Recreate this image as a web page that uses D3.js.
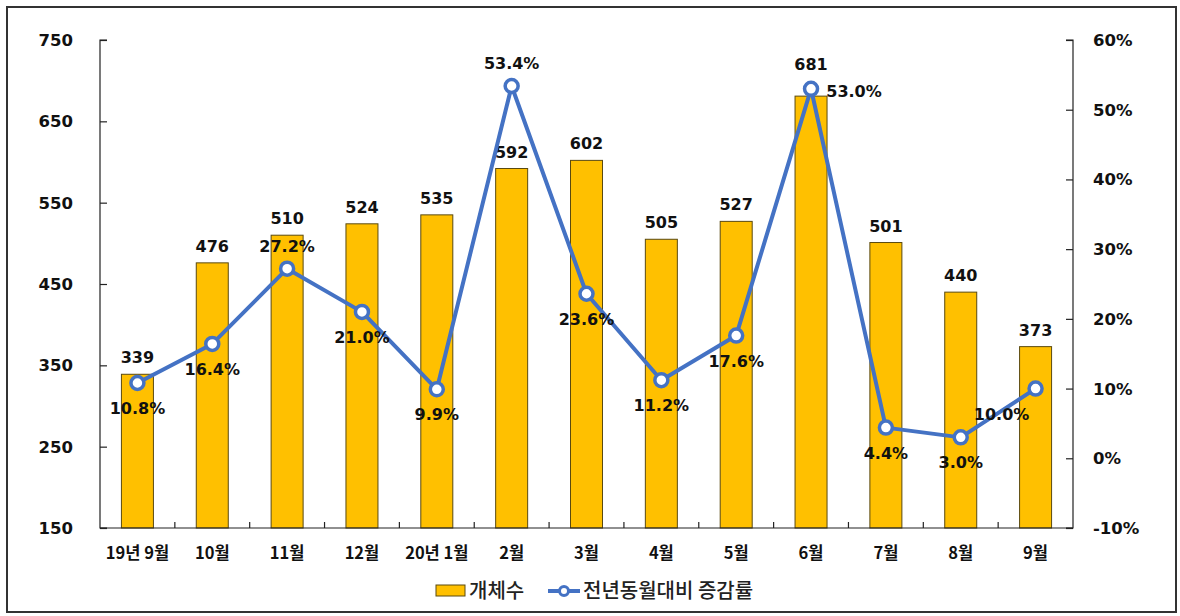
<!DOCTYPE html>
<html><head><meta charset="utf-8">
<script src="https://cdn.jsdelivr.net/npm/d3@7"></script>
<style>body{margin:0;background:#fff}svg{display:block}</style>
</head><body>
<svg id="c" width="1180" height="616"></svg>
<script>
const categories = ["19년 9월","10월","11월","12월","20년 1월","2월","3월","4월","5월","6월","7월","8월","9월"];
const counts = [339,476,510,524,535,592,602,505,527,681,501,440,373];
const rates = [10.8,16.4,27.2,21.0,9.9,53.4,23.6,11.2,17.6,53.0,4.4,3.0,10.0];
const leftTicks = [150,250,350,450,550,650,750];
const rightTicks = [-10,0,10,20,30,40,50,60];
const seriesNames = ["개체수","전년동월대비 증감률"];
const ratePos = ["b","b","a","b","b","a","b","b","b","r","b","b","lb"];
const countPos = ["a","a","a","a","a","a","a","a","a","high","a","a","a"];

const svg = d3.select("#c");
const L = 100, R = 1073, T = 40, B = 528;
const font = "'DejaVu Sans','Noto Sans CJK KR',sans-serif";
const kfont = "'Noto Sans CJK KR','DejaVu Sans',sans-serif";

svg.append("rect").attr("x",7).attr("y",7).attr("width",1169).attr("height",605)
  .attr("fill","#fff").attr("stroke","#333").attr("stroke-width",2);

const xb = d3.scaleBand().domain(categories).range([L,R]);
const yL = d3.scaleLinear().domain([150,750]).range([B,T]);
const yR = d3.scaleLinear().domain([-10,60]).range([B,T]);
const cx = i=>xb(categories[i])+xb.bandwidth()/2;

// bars
svg.append("g").selectAll("rect").data(counts).join("rect")
  .attr("x",(d,i)=>cx(i) - 16)
  .attr("width",32)
  .attr("y",d=>yL(d)).attr("height",d=>B-yL(d))
  .attr("fill","#FFC000").attr("stroke","#5a4a10").attr("stroke-width",1);

// axes
const gl = svg.append("g").attr("transform",`translate(${L},0)`)
  .call(d3.axisRight(yL).tickValues(leftTicks).tickSize(7).tickFormat(""));
gl.select(".domain").attr("d",`M7,${T}H0V${B}H7`);
gl.selectAll("line,path").attr("stroke","#222").attr("stroke-width",1.2);
svg.append("g").selectAll("text").data(leftTicks).join("text")
  .attr("x",73).attr("y",d=>yL(d)+6).attr("text-anchor","end")
  .attr("font-family",font).attr("font-weight","bold").attr("font-size",16.5).attr("fill","#111")
  .text(d=>d);

const gr = svg.append("g").attr("transform",`translate(${R},0)`)
  .call(d3.axisLeft(yR).tickValues(rightTicks).tickSize(7).tickFormat(""));
gr.select(".domain").attr("d",`M-7,${T}H0V${B}H-7`);
gr.selectAll("line,path").attr("stroke","#222").attr("stroke-width",1.2);
svg.append("g").selectAll("text").data(rightTicks).join("text")
  .attr("x",1093).attr("y",d=>yR(d)+6).attr("text-anchor","start")
  .attr("font-family",font).attr("font-weight","bold").attr("font-size",16.5).attr("fill","#111")
  .text(d=>d+"%");

// x axis
svg.append("line").attr("x1",L).attr("x2",R).attr("y1",B).attr("y2",B).attr("stroke","#222").attr("stroke-width",1.2);
svg.append("g").selectAll("line").data(categories.slice(1)).join("line")
  .attr("x1",d=>xb(d)).attr("x2",d=>xb(d)).attr("y1",B).attr("y2",B-6)
  .attr("stroke","#222").attr("stroke-width",1.2);
svg.append("g").selectAll("text").data(categories).join("text")
  .attr("x",d=>xb(d)+xb.bandwidth()/2).attr("y",B+31).attr("text-anchor","middle")
  .attr("font-family",kfont).attr("font-weight","bold").attr("font-size",16.5).attr("fill","#111")
  .text(d=>d);

// bar labels
svg.append("g").selectAll("text").data(counts).join("text")
  .attr("x",(d,i)=>cx(i)).attr("y",(d,i)=>yL(d)-(countPos[i]==="high"?26:11))
  .attr("text-anchor","middle").attr("font-family",font).attr("font-weight","bold")
  .attr("font-size",16).attr("fill","#111").text(d=>d);

// line
const line = d3.line().x((d,i)=>cx(i)).y(d=>yR(d));
svg.append("path").datum(rates).attr("d",line).attr("fill","none")
  .attr("stroke","#4472C4").attr("stroke-width",4).attr("stroke-linejoin","round");
svg.append("g").selectAll("circle").data(rates).join("circle")
  .attr("cx",(d,i)=>cx(i)).attr("cy",d=>yR(d)).attr("r",6.5)
  .attr("fill","#fff").attr("stroke","#4472C4").attr("stroke-width",3.5);

// rate labels
svg.append("g").selectAll("text").data(rates).join("text")
  .attr("x",(d,i)=>{const p=ratePos[i];return cx(i)+(p==="r"?43:p==="lb"?-34:0);})
  .attr("y",(d,i)=>{const p=ratePos[i];const y=yR(d);return p==="a"?y-17:p==="r"?y+8:y+31;})
  .attr("text-anchor","middle").attr("font-family",font).attr("font-weight","bold")
  .attr("font-size",16).attr("fill","#111").text(d=>d.toFixed(1)+"%");

// legend
const lg = svg.append("g");
lg.append("rect").attr("x",436).attr("y",585).attr("width",29).attr("height",11)
  .attr("fill","#FFC000").attr("stroke","#5a4a10").attr("stroke-width",1);
lg.append("text").attr("x",469).attr("y",598).attr("font-family",kfont).attr("font-size",20)
  .attr("font-weight","500").attr("fill","#222").text(seriesNames[0]);
lg.append("line").attr("x1",548).attr("x2",580).attr("y1",591).attr("y2",591)
  .attr("stroke","#4472C4").attr("stroke-width",4);
lg.append("circle").attr("cx",564).attr("cy",591).attr("r",4.5).attr("fill","#fff")
  .attr("stroke","#4472C4").attr("stroke-width",3);
lg.append("text").attr("x",583).attr("y",598).attr("font-family",kfont).attr("font-size",20)
  .attr("font-weight","500").attr("fill","#222").text(seriesNames[1]);
</script>
</body></html>
